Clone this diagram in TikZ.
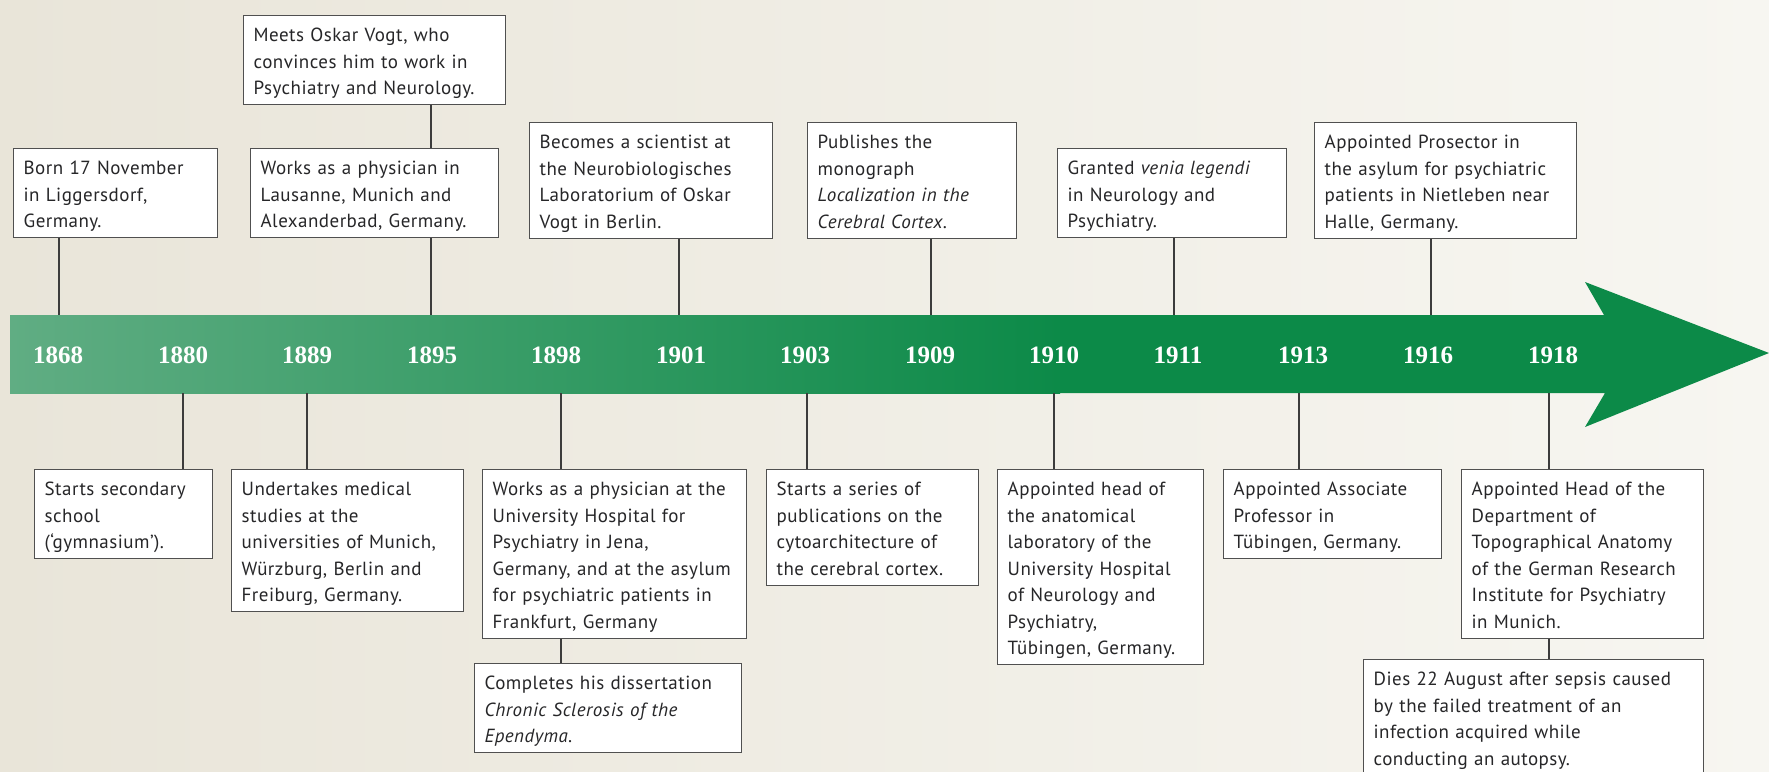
\documentclass[tikz,border=0pt]{standalone}
\usepackage{fontspec}
\setmainfont[LetterSpace=2.5]{PT Sans}
\newfontfamily\yearfont{Liberation Serif}
\definecolor{bgL}{RGB}{233,229,217}
\definecolor{bgR}{RGB}{247,246,241}
\definecolor{gA}{RGB}{96,173,131}
\definecolor{gB}{RGB}{12,138,72}
\definecolor{txt}{RGB}{38,38,40}
\definecolor{boxc}{RGB}{80,80,80}
\definecolor{connc}{RGB}{60,60,60}
\tikzset{
  evt/.style={draw=boxc, line width=1.3pt, fill=white, anchor=north west,
    inner xsep=10pt, inner ysep=4.75pt, align=left, text=txt,
    font=\fontsize{19}{26.5}\selectfont},
  conn/.style={draw=connc, line width=1.4pt},
  yr/.style={text=white, font=\yearfont\bfseries\fontsize{25}{25}\selectfont, inner sep=0pt}
}
\newcommand\evbox[5]{%
  \pgfmathsetmacro\evtw{#4-20}%
  \node[evt, text width=\evtw pt] (#1) at (#2,#3) {\rule{0pt}{21.5pt}#5\rule[-5pt]{0pt}{5pt}};}
\begin{document}
\begin{tikzpicture}[x=1pt,y=-1pt]
\useasboundingbox (0,0) rectangle (1769,771);
\shade[left color=bgL, right color=bgR] (0,0) rectangle (1769,771);

% timeline arrow
\fill[gB] (10,315) -- (1604,315) -- (1585,282) -- (1769,353) -- (1585,427) -- (1605,393) -- (10,393) -- cycle;
\shade[left color=gA, right color=gB] (10,315) rectangle (1060,393);

% connection points on the bar
\coordinate (k1868) at (59,315);
\coordinate (k1880) at (183,393);
\coordinate (k1889) at (307,393);
\coordinate (k1895) at (431,315);
\coordinate (k1898) at (561,393);
\coordinate (k1901) at (679,315);
\coordinate (k1903) at (807,393);
\coordinate (k1909) at (931,315);
\coordinate (k1910) at (1054,393);
\coordinate (k1911) at (1174,315);
\coordinate (k1913) at (1299,393);
\coordinate (k1916) at (1431,315);
\coordinate (k1918) at (1549,393);

% upper events
\evbox{born}{13}{148}{204}{Born 17 November\\in Liggersdorf,\\Germany.}
\evbox{meets}{243}{15}{262}{Meets Oskar Vogt, who\\convinces him to work in\\Psychiatry and Neurology.}
\evbox{worksL}{250}{148}{248}{Works as a physician in\\Lausanne, Munich and\\Alexanderbad, Germany.}
\evbox{becomes}{529}{122}{243}{Becomes a scientist at\\the Neurobiologisches\\Laboratorium of Oskar\\Vogt in Berlin.}
\evbox{publishes}{807}{122}{209}{Publishes the\\monograph\\\textit{Localization in the}\\\textit{Cerebral Cortex.}}
\evbox{granted}{1057}{148}{229}{Granted \textit{venia legendi}\\in Neurology and\\Psychiatry.}
\evbox{prosector}{1314}{122}{262}{Appointed Prosector in\\the asylum for psychiatric\\patients in Nietleben near\\Halle, Germany.}

% lower events
\evbox{starts}{34}{469}{178}{Starts secondary\\school\\(‘gymnasium’).}
\evbox{undertakes}{231}{469}{232}{Undertakes medical\\studies at the\\universities of Munich,\\Würzburg, Berlin and\\Freiburg, Germany.}
\evbox{worksJ}{482}{469}{264}{Works as a physician at the\\University Hospital for\\Psychiatry in Jena,\\Germany, and at the asylum\\for psychiatric patients in\\Frankfurt, Germany}
\evbox{completes}{474}{663}{267}{Completes his dissertation\\\textit{Chronic Sclerosis of the}\\\textit{Ependyma.}}
\evbox{series}{766}{469}{212}{Starts a series of\\publications on the\\cytoarchitecture of\\the cerebral cortex.}
\evbox{apphead}{997}{469}{206}{Appointed head of\\the anatomical\\laboratory of the\\University Hospital\\of Neurology and\\Psychiatry,\\Tübingen, Germany.}
\evbox{assoc}{1223}{469}{218}{Appointed Associate\\Professor in\\Tübingen, Germany.}
\evbox{dept}{1461}{469}{242}{Appointed Head of the\\Department of\\Topographical Anatomy\\of the German Research\\Institute for Psychiatry\\in Munich.}
\evbox{dies}{1363}{659}{340}{Dies 22 August after sepsis caused\\by the failed treatment of an\\infection acquired while\\conducting an autopsy.}

% connectors
\draw[conn] (born.south -| k1868) -- (k1868);
\draw[conn] (meets.south -| k1895) -- (worksL.north -| k1895);
\draw[conn] (worksL.south -| k1895) -- (k1895);
\draw[conn] (becomes.south -| k1901) -- (k1901);
\draw[conn] (publishes.south -| k1909) -- (k1909);
\draw[conn] (granted.south -| k1911) -- (k1911);
\draw[conn] (prosector.south -| k1916) -- (k1916);
\draw[conn] (k1880) -- (starts.north -| k1880);
\draw[conn] (k1889) -- (undertakes.north -| k1889);
\draw[conn] (k1898) -- (worksJ.north -| k1898);
\draw[conn] (worksJ.south -| k1898) -- (completes.north -| k1898);
\draw[conn] (k1903) -- (series.north -| k1903);
\draw[conn] (k1910) -- (apphead.north -| k1910);
\draw[conn] (k1913) -- (assoc.north -| k1913);
\draw[conn] (k1918) -- (dept.north -| k1918);
\draw[conn] (dept.south -| k1918) -- (dies.north -| k1918);

% year labels
\node[yr] (l1868) at (58,355) {1868};
\node[yr] (l1880) at (183,355) {1880};
\node[yr] (l1889) at (307,355) {1889};
\node[yr] (l1895) at (432,355) {1895};
\node[yr] (l1898) at (556,355) {1898};
\node[yr] (l1901) at (681,355) {1901};
\node[yr] (l1903) at (805,355) {1903};
\node[yr] (l1909) at (930,355) {1909};
\node[yr] (l1910) at (1054,355) {1910};
\node[yr] (l1911) at (1178,355) {1911};
\node[yr] (l1913) at (1303,355) {1913};
\node[yr] (l1916) at (1428,355) {1916};
\node[yr] (l1918) at (1553,355) {1918};
\end{tikzpicture}
\end{document}
